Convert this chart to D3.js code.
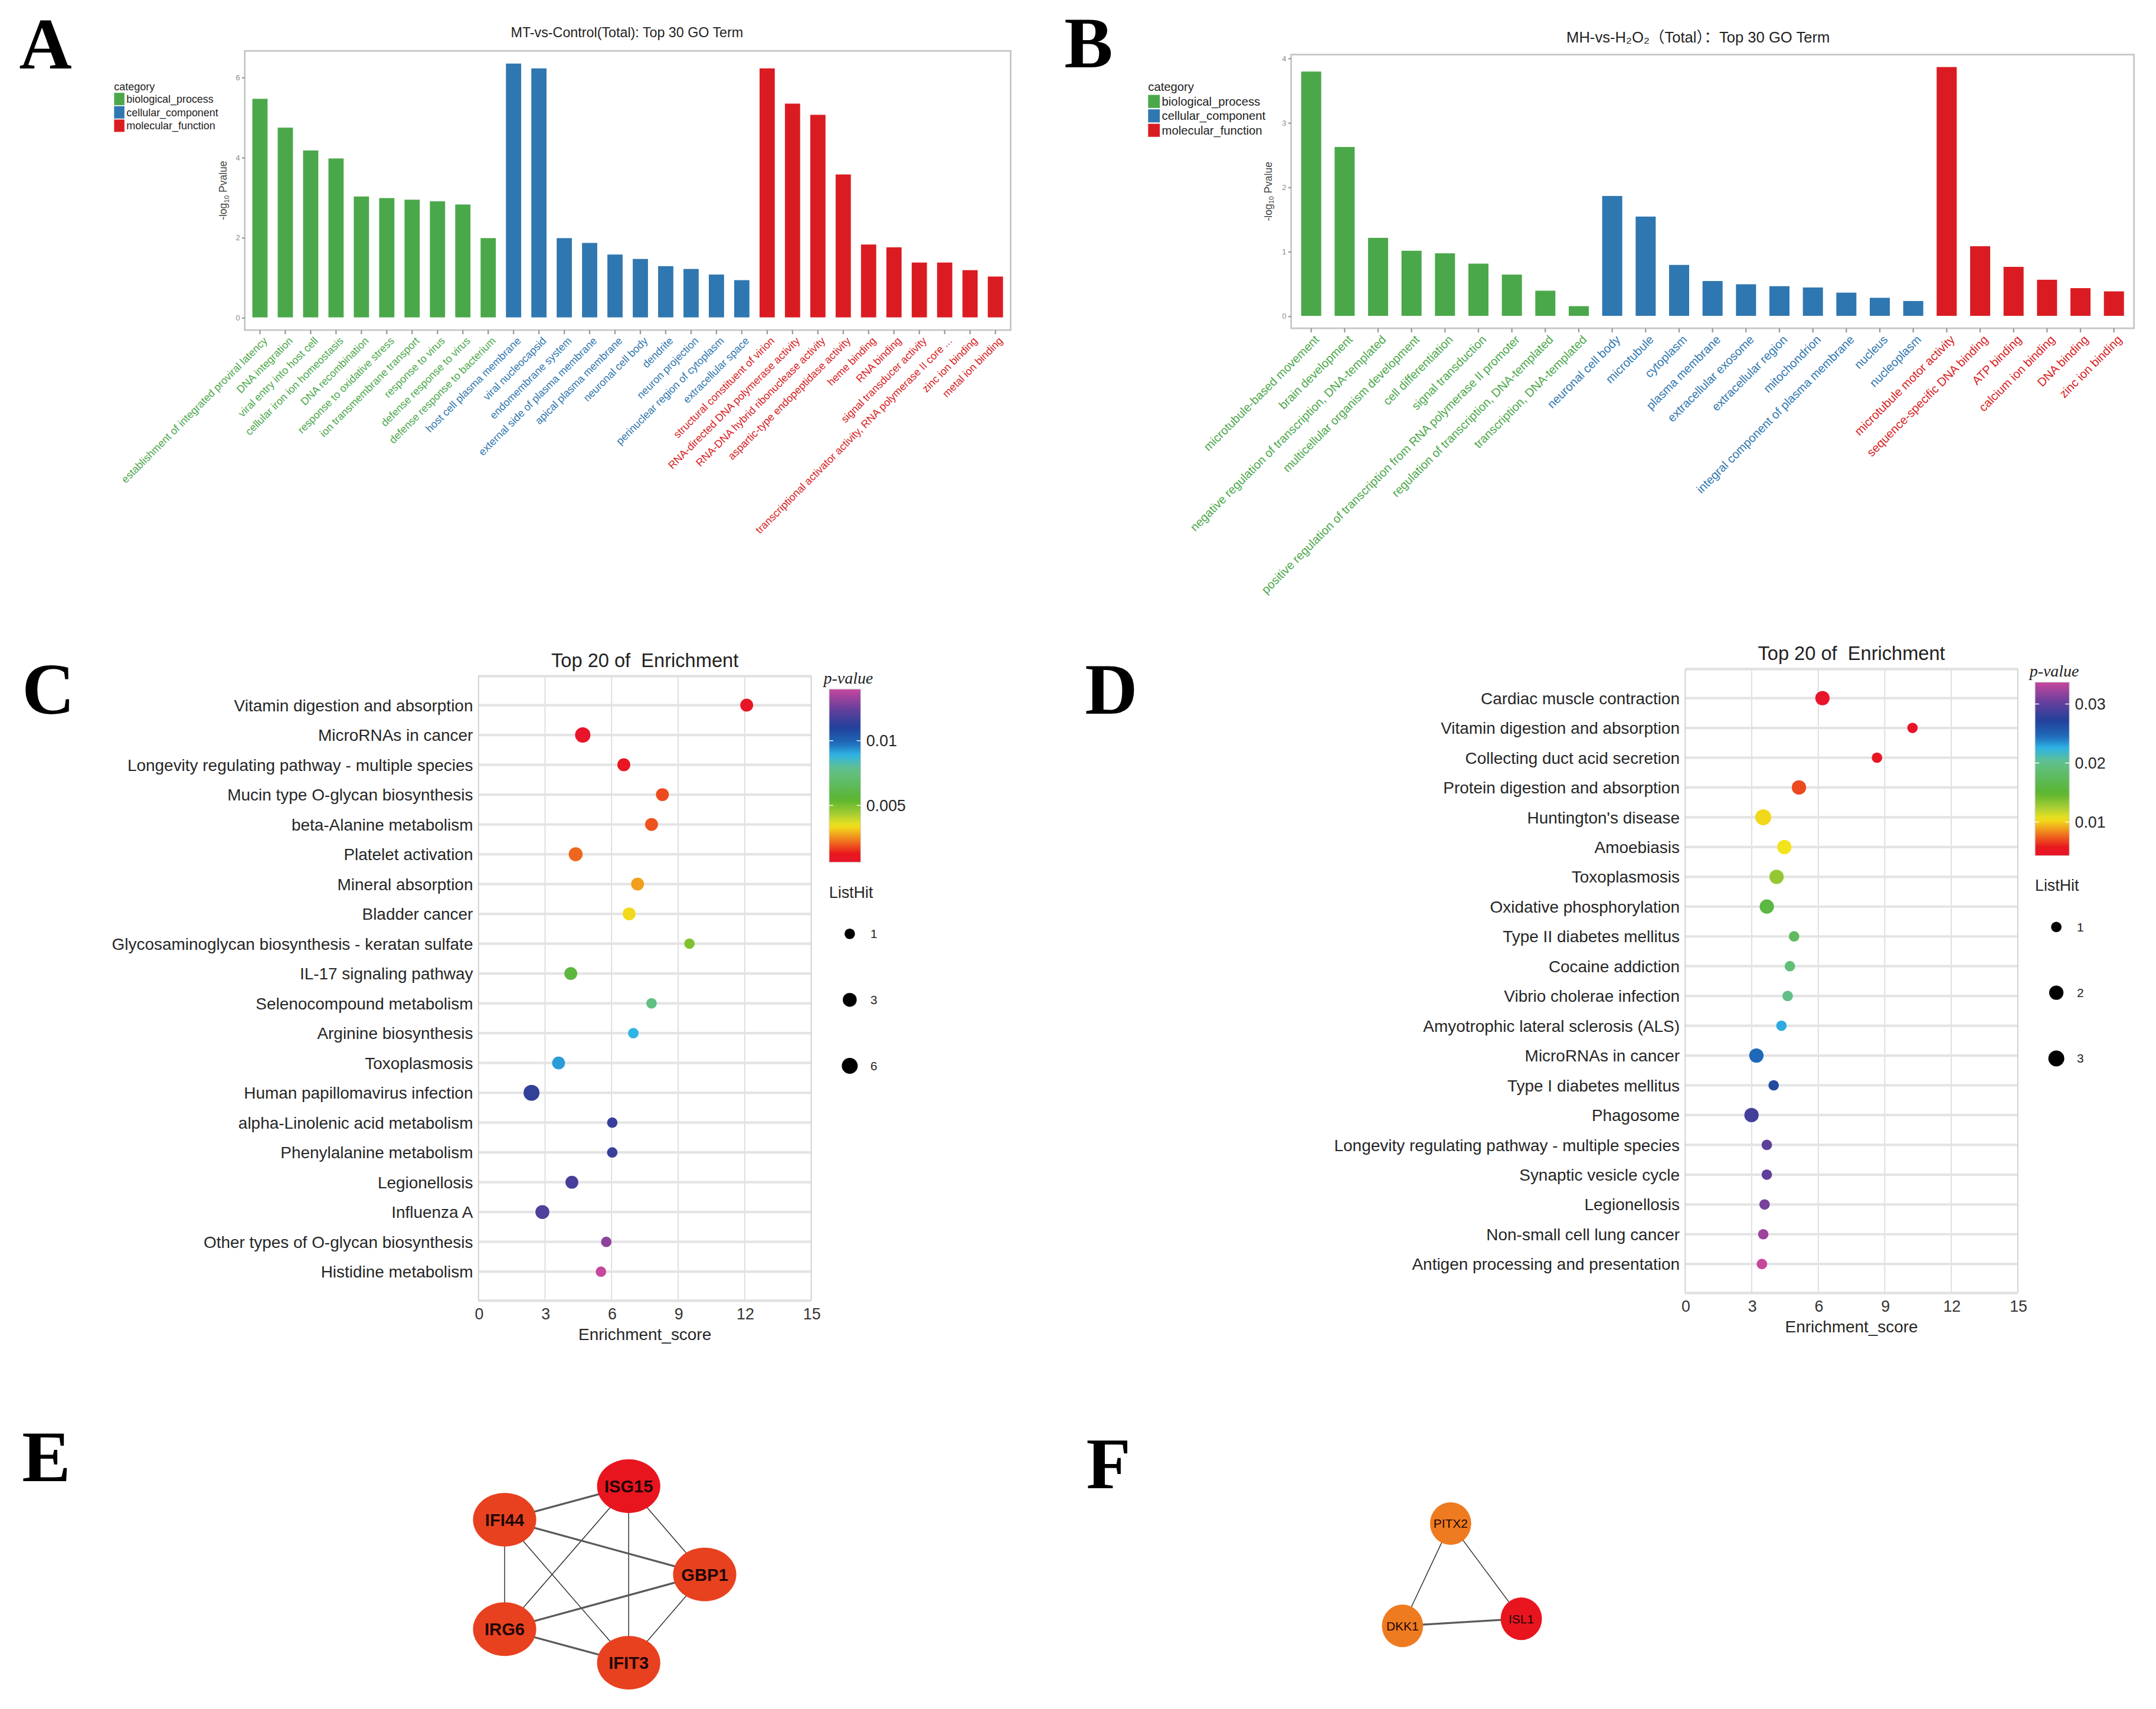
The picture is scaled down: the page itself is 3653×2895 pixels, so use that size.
<!DOCTYPE html>
<html>
<head>
<meta charset="utf-8">
<script src="https://cdn.jsdelivr.net/npm/d3@7"></script>
<style>
  body { margin: 0; background: #fff; }
  svg { display: block; }
</style>
</head>
<body>
<script>
// ---------- data ----------
const categories = ["biological_process", "cellular_component", "molecular_function"];

// panel A : MT-vs-Control GO terms
const goATerms = [
  "establishment of integrated proviral latency", "DNA integration", "viral entry into host cell",
  "cellular iron ion homeostasis", "DNA recombination", "response to oxidative stress",
  "ion transmembrane transport", "response to virus", "defense response to virus",
  "defense response to bacterium",
  "host cell plasma membrane", "viral nucleocapsid", "endomembrane system",
  "external side of plasma membrane", "apical plasma membrane", "neuronal cell body", "dendrite",
  "neuron projection", "perinuclear region of cytoplasm", "extracellular space",
  "structural constituent of virion", "RNA-directed DNA polymerase activity",
  "RNA-DNA hybrid ribonuclease activity", "aspartic-type endopeptidase activity", "heme binding",
  "RNA binding", "signal transducer activity",
  "transcriptional activator activity, RNA polymerase II core ...", "zinc ion binding", "metal ion binding"
];
const goAValues = [5.46, 4.74, 4.17, 3.97, 3.02, 2.98, 2.94, 2.90, 2.82, 1.98,
                   6.34, 6.22, 1.98, 1.86, 1.57, 1.46, 1.28, 1.21, 1.07, 0.93,
                   6.22, 5.34, 5.06, 3.57, 1.82, 1.75, 1.37, 1.37, 1.18, 1.02];
const goACats = [0,0,0,0,0,0,0,0,0,0, 1,1,1,1,1,1,1,1,1,1, 2,2,2,2,2,2,2,2,2,2];
const goATicks = [0, 2, 4, 6];

// panel B : MH-vs-H2O2 GO terms
const goBTerms = [
  "microtubule-based movement", "brain development", "negative regulation of transcription, DNA-templated",
  "multicellular organism development", "cell differentiation", "signal transduction",
  "positive regulation of transcription from RNA polymerase II promoter",
  "regulation of transcription, DNA-templated", "transcription, DNA-templated",
  "neuronal cell body", "microtubule", "cytoplasm", "plasma membrane", "extracellular exosome",
  "extracellular region", "mitochondrion", "integral component of plasma membrane", "nucleus", "nucleoplasm",
  "microtubule motor activity", "sequence-specific DNA binding", "ATP binding", "calcium ion binding",
  "DNA binding", "zinc ion binding"
];
const goBValues = [3.79, 2.62, 1.21, 1.01, 0.97, 0.81, 0.64, 0.39, 0.15,
                   1.86, 1.54, 0.79, 0.54, 0.49, 0.46, 0.44, 0.36, 0.28, 0.23,
                   3.86, 1.08, 0.76, 0.56, 0.43, 0.38];
const goBCats = [0,0,0,0,0,0,0,0,0, 1,1,1,1,1,1,1,1,1,1, 2,2,2,2,2,2];
const goBTicks = [0, 1, 2, 3, 4];

// panel C : KEGG enrichment
const cTerms = [
  "Vitamin digestion and absorption", "MicroRNAs in cancer", "Longevity regulating pathway - multiple species",
  "Mucin type O-glycan biosynthesis", "beta-Alanine metabolism", "Platelet activation", "Mineral absorption",
  "Bladder cancer", "Glycosaminoglycan biosynthesis - keratan sulfate", "IL-17 signaling pathway",
  "Selenocompound metabolism", "Arginine biosynthesis", "Toxoplasmosis", "Human papillomavirus infection",
  "alpha-Linolenic acid metabolism", "Phenylalanine metabolism", "Legionellosis", "Influenza A",
  "Other types of O-glycan biosynthesis", "Histidine metabolism"
];
const cScore = [12.09, 4.70, 6.55, 8.29, 7.80, 4.38, 7.17, 6.79, 9.51, 4.16,
                7.80, 6.98, 3.61, 2.39, 6.03, 6.03, 4.21, 2.88, 5.76, 5.52];
const cPval = [0.0009, 0.0006, 0.0010, 0.0018, 0.0019, 0.0021, 0.0027, 0.0033, 0.0049, 0.0058,
               0.0076, 0.0089, 0.0092, 0.0114, 0.0115, 0.0115, 0.0118, 0.0120, 0.0131, 0.0140];
const cHits = [2, 5, 2, 2, 2, 3, 2, 2, 1, 2, 1, 1, 2, 6, 1, 1, 2, 3, 1, 1];
const cPTicks = [0.005, 0.01];
const cHitTicks = [1, 3, 6];

// panel D : KEGG enrichment
const dTerms = [
  "Cardiac muscle contraction", "Vitamin digestion and absorption", "Collecting duct acid secretion",
  "Protein digestion and absorption", "Huntington's disease", "Amoebiasis", "Toxoplasmosis",
  "Oxidative phosphorylation", "Type II diabetes mellitus", "Cocaine addiction", "Vibrio cholerae infection",
  "Amyotrophic lateral sclerosis (ALS)", "MicroRNAs in cancer", "Type I diabetes mellitus", "Phagosome",
  "Longevity regulating pathway - multiple species", "Synaptic vesicle cycle", "Legionellosis",
  "Non-small cell lung cancer", "Antigen processing and presentation"
];
const dScore = [6.19, 10.25, 8.65, 5.13, 3.52, 4.47, 4.12, 3.68, 4.91, 4.72,
                4.62, 4.34, 3.21, 3.99, 2.99, 3.68, 3.68, 3.58, 3.52, 3.46];
const dPval = [0.0046, 0.0043, 0.0052, 0.0069, 0.0102, 0.0105, 0.0131, 0.0160, 0.0175, 0.0190,
               0.0199, 0.0228, 0.0246, 0.0266, 0.0287, 0.0299, 0.0300, 0.0310, 0.0322, 0.0337];
const dHits = [2, 1, 1, 2, 3, 2, 2, 2, 1, 1, 1, 1, 2, 1, 2, 1, 1, 1, 1, 1];
const dPTicks = [0.01, 0.02, 0.03];
const dHitTicks = [1, 2, 3];

const scoreTicks = [0, 3, 6, 9, 12, 15];

// panel E / F : PPI networks (layout in relative units)
const eNodes = ["ISG15", "IFI44", "GBP1", "IRG6", "IFIT3"];
const eLayoutX = [0.62, 0, 1, 0, 0.62];
const eLayoutY = [0, 0.19, 0.5, 0.81, 1];
const eRank = [1, 2, 2, 2, 2];
const eEdges = [["ISG15","IFI44",2], ["ISG15","GBP1",1], ["ISG15","IRG6",1], ["ISG15","IFIT3",1],
                ["IFI44","GBP1",2], ["IFI44","IRG6",1], ["IFI44","IFIT3",1],
                ["GBP1","IRG6",2], ["GBP1","IFIT3",1], ["IRG6","IFIT3",2]];

const fNodes = ["PITX2", "DKK1", "ISL1"];
const fLayoutX = [0.405, 0, 1];
const fLayoutY = [0, 1, 0.93];
const fRank = [3, 3, 1];
const fEdges = [["PITX2","DKK1",1], ["PITX2","ISL1",1], ["DKK1","ISL1",2]];

// ---------- styles ----------
const FONT = "'Liberation Sans', Arial, Helvetica, sans-serif";
const catColors = ["#4BA84A", "#2F77B0", "#DA1C22"];
const pStops  = [0, 0.05, 0.13, 0.21, 0.27, 0.36, 0.54, 0.62, 0.69, 0.78, 0.89, 1];
const pColors = ["#e8142a", "#e8181e", "#f07d1e", "#f2e41c", "#b0d033", "#5ab52f", "#62c08c",
                 "#2fb4e6", "#1f68b8", "#22409a", "#6a3f9c", "#c7479d"];
const rankColors = {1: "#E8151F", 2: "#E8411F", 3: "#EF7B21"};

const k = 3653 / 1568;
const W = 1568, H = 2895 / k;

const svg = d3.select("body").append("svg")
  .attr("width", 3653).attr("height", 2895)
  .attr("viewBox", `0 0 ${W} ${H}`)
  .attr("font-family", FONT);
svg.append("rect").attr("width", W).attr("height", H).attr("fill", "#fff");
const defs = svg.append("defs");

function panelLabel(txt, x, y) {
  svg.append("text").attr("x", x).attr("y", y).text(txt)
    .attr("font-family", "'Liberation Serif', 'Times New Roman', serif")
    .attr("font-weight", "bold").attr("font-size", 53).attr("fill", "#000");
}

// ---------- GO bar chart ----------
function drawGO(cfg) {
  const g = svg.append("g");
  const [x0, y0, x1, y1] = cfg.box;
  const n = cfg.terms.length;
  const x = d3.scaleBand().domain(d3.range(n)).range([x0, x1]).paddingInner(0.4).paddingOuter(0.3);
  const vmax = d3.max(cfg.values);
  const y = d3.scaleLinear().domain([-0.05 * vmax, 1.05 * vmax]).range([y1, y0]);

  g.selectAll("rect.bar").data(cfg.values).join("rect").attr("class", "bar")
    .attr("x", (d, i) => x(i)).attr("width", x.bandwidth())
    .attr("y", d => y(d)).attr("height", d => y(0) - y(d))
    .attr("fill", (d, i) => catColors[cfg.cats[i]]);

  g.append("rect").attr("x", x0).attr("y", y0).attr("width", x1 - x0).attr("height", y1 - y0)
    .attr("fill", "none").attr("stroke", "#c6c6c6").attr("stroke-width", 1.2);

  const ya = g.append("g").attr("transform", `translate(${x0},0)`)
    .call(d3.axisLeft(y).tickValues(cfg.ticks).tickFormat(d3.format("d")).tickSize(2).tickPadding(1.5));
  ya.attr("font-family", FONT).attr("font-size", 5.5);
  ya.select(".domain").remove();
  ya.selectAll("line").attr("stroke", "#9a9a9a");
  ya.selectAll("text").attr("fill", "#8a8a8a");

  const xa = g.append("g").attr("transform", `translate(0,${y1})`)
    .call(d3.axisBottom(x).tickSize(3).tickFormat(i => cfg.terms[i]));
  xa.attr("font-family", FONT).attr("font-size", cfg.labelSize);
  xa.select(".domain").remove();
  xa.selectAll("line").attr("stroke", "#9a9a9a");
  xa.selectAll("text")
    .attr("x", null).attr("y", null).attr("dy", "0.7em")
    .attr("transform", "translate(2,4.5) rotate(-45)")
    .style("text-anchor", "end")
    .attr("fill", i => catColors[cfg.cats[i]]);

  // title
  g.append("text").attr("x", cfg.titleX).attr("y", cfg.titleY).attr("text-anchor", "middle")
    .attr("font-size", cfg.titleSize).attr("fill", "#222")
    .attr("font-family", FONT + ", 'Noto Sans CJK SC'")
    .text(cfg.title);

  // y label
  const yl = g.append("text")
    .attr("transform", `translate(${cfg.ylabX},${(y0 + y1) / 2}) rotate(-90)`)
    .attr("text-anchor", "middle").attr("font-size", 7.5).attr("fill", "#444");
  yl.append("tspan").text("-log");
  yl.append("tspan").attr("font-size", 5).attr("dy", 1.5).text("10");
  yl.append("tspan").attr("dy", -1.5).text(" Pvalue");

  // legend
  const L = cfg.legend;
  const lg = g.append("g").attr("transform", `translate(${L.x},${L.y})`);
  lg.append("text").attr("x", 0).attr("y", 0).attr("font-size", cfg.labelSize).attr("fill", "#222").text("category");
  lg.selectAll("rect").data(categories).join("rect")
    .attr("x", 0).attr("y", (d, i) => L.top + i * L.step)
    .attr("width", L.kw).attr("height", L.kh)
    .attr("fill", (d, i) => catColors[i]);
  lg.selectAll("text.lab").data(categories).join("text").attr("class", "lab")
    .attr("x", L.kw + 1.5).attr("y", (d, i) => L.top + i * L.step + L.kh / 2)
    .attr("dy", "0.35em").attr("font-size", cfg.labelSize).attr("fill", "#222")
    .text(d => d);
}

// ---------- enrichment dot plot ----------
function drawDots(cfg) {
  const g = svg.append("g");
  const [x0, y0, x1, y1] = cfg.box;
  const x = d3.scaleLinear().domain([0, 15]).range([x0, x1]);
  const y = d3.scalePoint().domain(cfg.terms).range([y0, y1]).padding(0.975);
  const pExt = d3.extent(cfg.pvals);
  const color = d3.scaleLinear()
    .domain(pStops.map(s => pExt[0] + s * (pExt[1] - pExt[0])))
    .range(pColors).clamp(true);
  const hExt = d3.extent(cfg.hits);
  const rs = d3.scaleSqrt().domain([0, hExt[1] - hExt[0]]).range([3.8, 5.8]);
  const r = h => rs(h - hExt[0]);

  // grid
  g.selectAll("line.vg").data(scoreTicks.filter(t => t > 0 && t < 15)).join("line").attr("class", "vg")
    .attr("x1", d => x(d)).attr("x2", d => x(d)).attr("y1", y0).attr("y2", y1)
    .attr("stroke", "#d9d9d9").attr("stroke-width", 0.7);
  g.selectAll("line.hg").data(cfg.terms).join("line").attr("class", "hg")
    .attr("x1", x0).attr("x2", x1).attr("y1", d => y(d)).attr("y2", d => y(d))
    .attr("stroke", "#e4e4e4").attr("stroke-width", 1.8);
  g.selectAll("line.bh").data([y0, y1]).join("line").attr("class", "bh")
    .attr("x1", x0).attr("x2", x1).attr("y1", d => d).attr("y2", d => d)
    .attr("stroke", "#e0e0e0").attr("stroke-width", 1.8);
  g.selectAll("line.bv").data([x0, x1]).join("line").attr("class", "bv")
    .attr("x1", d => d).attr("x2", d => d).attr("y1", y0).attr("y2", y1)
    .attr("stroke", "#d0d0d0").attr("stroke-width", 0.8);

  // points
  g.selectAll("circle.pt").data(cfg.terms).join("circle").attr("class", "pt")
    .attr("cx", (d, i) => x(cfg.scores[i])).attr("cy", d => y(d))
    .attr("r", (d, i) => r(cfg.hits[i]))
    .attr("fill", (d, i) => color(cfg.pvals[i]));

  // axes
  const ya = g.append("g").attr("transform", `translate(${x0},0)`)
    .call(d3.axisLeft(y).tickSize(0).tickPadding(4));
  ya.attr("font-family", FONT).attr("font-size", 12);
  ya.select(".domain").remove();
  ya.selectAll("text").attr("fill", "#262626");

  const xa = g.append("g").attr("transform", `translate(0,${y1})`)
    .call(d3.axisBottom(x).tickValues(scoreTicks).tickSize(0).tickPadding(5.2));
  xa.attr("font-family", FONT).attr("font-size", 11.5);
  xa.select(".domain").remove();
  xa.selectAll("text").attr("fill", "#333");

  g.append("text").attr("x", (x0 + x1) / 2).attr("y", y1 + 28.5).attr("text-anchor", "middle")
    .attr("font-size", 12).attr("fill", "#262626").text("Enrichment_score");

  g.append("text").attr("x", (x0 + x1) / 2).attr("y", y0 - 6.4).attr("text-anchor", "middle")
    .attr("font-size", 14).attr("fill", "#222").style("white-space", "pre")
    .text("Top 20 of  Enrichment");

  // colour bar
  const cb = cfg.cbar;
  const gid = "grad" + cfg.id;
  const grad = defs.append("linearGradient").attr("id", gid)
    .attr("x1", 0).attr("y1", 1).attr("x2", 0).attr("y2", 0);
  grad.selectAll("stop").data(d3.range(0, 1.0001, 1 / 40)).join("stop")
    .attr("offset", d => d)
    .attr("stop-color", d => color(pExt[0] + d * (pExt[1] - pExt[0])));
  g.append("rect").attr("x", cb.x).attr("y", cb.y0).attr("width", cb.w).attr("height", cb.y1 - cb.y0)
    .attr("fill", `url(#${gid})`).attr("stroke", "#d8d8d8").attr("stroke-width", 0.5);
  const cbY = d3.scaleLinear().domain(pExt).range([cb.y1, cb.y0]);
  g.selectAll("text.cbl").data(cfg.pTicks).join("text").attr("class", "cbl")
    .attr("x", cb.x + cb.w + 4).attr("y", d => cbY(d)).attr("dy", "0.35em")
    .attr("font-size", 11.5).attr("fill", "#262626").text(d => d);
  g.selectAll("line.cbt").data(cfg.pTicks).join("line").attr("class", "cbt")
    .attr("x1", cb.x).attr("x2", cb.x + 3).attr("y1", d => cbY(d)).attr("y2", d => cbY(d))
    .attr("stroke", "#fff").attr("stroke-width", 0.6);
  g.selectAll("line.cbt2").data(cfg.pTicks).join("line").attr("class", "cbt2")
    .attr("x1", cb.x + cb.w - 3).attr("x2", cb.x + cb.w).attr("y1", d => cbY(d)).attr("y2", d => cbY(d))
    .attr("stroke", "#fff").attr("stroke-width", 0.6);
  g.append("text").attr("x", cb.x - 4).attr("y", cb.y0 - 4)
    .attr("font-family", "'Liberation Serif', 'Times New Roman', serif")
    .attr("font-style", "italic").attr("font-size", 12).attr("fill", "#222").text("p-value");

  // size legend
  const sl = cfg.sizeLeg;
  g.append("text").attr("x", sl.tx).attr("y", sl.ty).attr("font-size", 11.5).attr("fill", "#262626").text("ListHit");
  g.selectAll("circle.sl").data(cfg.hitTicks).join("circle").attr("class", "sl")
    .attr("cx", sl.x).attr("cy", (d, i) => sl.y + i * sl.step).attr("r", d => r(d)).attr("fill", "#000");
  g.selectAll("text.sl").data(cfg.hitTicks).join("text").attr("class", "sl")
    .attr("x", sl.x + 15).attr("y", (d, i) => sl.y + i * sl.step).attr("dy", "0.35em")
    .attr("font-size", 9).attr("fill", "#262626").text(d => d);
}

// ---------- network ----------
function drawNet(cfg) {
  const g = svg.append("g");
  const x = d3.scaleLinear().domain([0, 1]).range(cfg.xr);
  const y = d3.scaleLinear().domain([0, 1]).range(cfg.yr);
  const pos = {};
  cfg.nodes.forEach((nm, i) => pos[nm] = [x(cfg.lx[i]), y(cfg.ly[i])]);
  const w = d3.scaleLinear().domain([1, 2]).range([0.6, 1.4]);
  g.selectAll("line").data(cfg.edges).join("line")
    .attr("x1", d => pos[d[0]][0]).attr("y1", d => pos[d[0]][1])
    .attr("x2", d => pos[d[1]][0]).attr("y2", d => pos[d[1]][1])
    .attr("stroke", d => d[2] > 1 ? "#5a5a5a" : "#262626")
    .attr("stroke-width", d => w(d[2]));
  g.selectAll("ellipse").data(cfg.nodes).join("ellipse")
    .attr("cx", d => pos[d][0]).attr("cy", d => pos[d][1])
    .attr("rx", cfg.rx).attr("ry", cfg.ry)
    .attr("fill", (d, i) => rankColors[cfg.rank[i]]);
  g.selectAll("text").data(cfg.nodes).join("text")
    .attr("x", d => pos[d][0]).attr("y", d => pos[d][1]).attr("dy", "0.36em")
    .attr("text-anchor", "middle").attr("font-size", cfg.fs).attr("font-weight", cfg.fw)
    .attr("fill", "#1e0606").text(d => d);
}

// ---------- compose ----------
panelLabel("A", 14, 50);
panelLabel("B", 774, 49);
panelLabel("C", 16, 519);
panelLabel("D", 789, 519);
panelLabel("E", 16, 1077);
panelLabel("F", 790, 1082);

drawGO({
  terms: goATerms, values: goAValues, cats: goACats, ticks: goATicks,
  box: [178, 37, 735, 240], labelSize: 7.7,
  title: "MT-vs-Control(Total): Top 30 GO Term", titleX: 456, titleY: 27, titleSize: 10,
  ylabX: 165,
  legend: {x: 83, y: 65.5, top: 2, step: 9.7, kw: 7.5, kh: 9}
});

drawGO({
  terms: goBTerms, values: goBValues, cats: goBCats, ticks: goBTicks,
  box: [939, 39.7, 1552, 238.7], labelSize: 8.7,
  title: "MH-vs-H₂O₂（Total）：Top 30 GO Term", titleX: 1235, titleY: 31, titleSize: 11,
  ylabX: 925,
  legend: {x: 835, y: 66, top: 3, step: 10.5, kw: 8.5, kh: 9.5}
});

drawDots({
  id: "C", terms: cTerms, scores: cScore, pvals: cPval, hits: cHits,
  pTicks: cPTicks, hitTicks: cHitTicks,
  box: [348, 491.6, 590, 945.8],
  cbar: {x: 603, w: 23, y0: 501, y1: 627},
  sizeLeg: {tx: 603, ty: 653, x: 618, y: 679, step: 48}
});

drawDots({
  id: "D", terms: dTerms, scores: dScore, pvals: dPval, hits: dHits,
  pTicks: dPTicks, hitTicks: dHitTicks,
  box: [1225.6, 486.5, 1467.5, 940.2],
  cbar: {x: 1480, w: 25, y0: 496, y1: 622.2},
  sizeLeg: {tx: 1480, ty: 647.7, x: 1495.5, y: 674, step: 47.8}
});

drawNet({
  nodes: eNodes, lx: eLayoutX, ly: eLayoutY, rank: eRank, edges: eEdges,
  xr: [367, 512.5], yr: [1080.6, 1209], rx: 23, ry: 19.5, fs: 12.5, fw: "bold"
});

drawNet({
  nodes: fNodes, lx: fLayoutX, ly: fLayoutY, rank: fRank, edges: fEdges,
  xr: [1020, 1106.4], yr: [1107.8, 1182.2], rx: 15, ry: 15.5, fs: 9, fw: "normal"
});
</script>
</body>
</html>
